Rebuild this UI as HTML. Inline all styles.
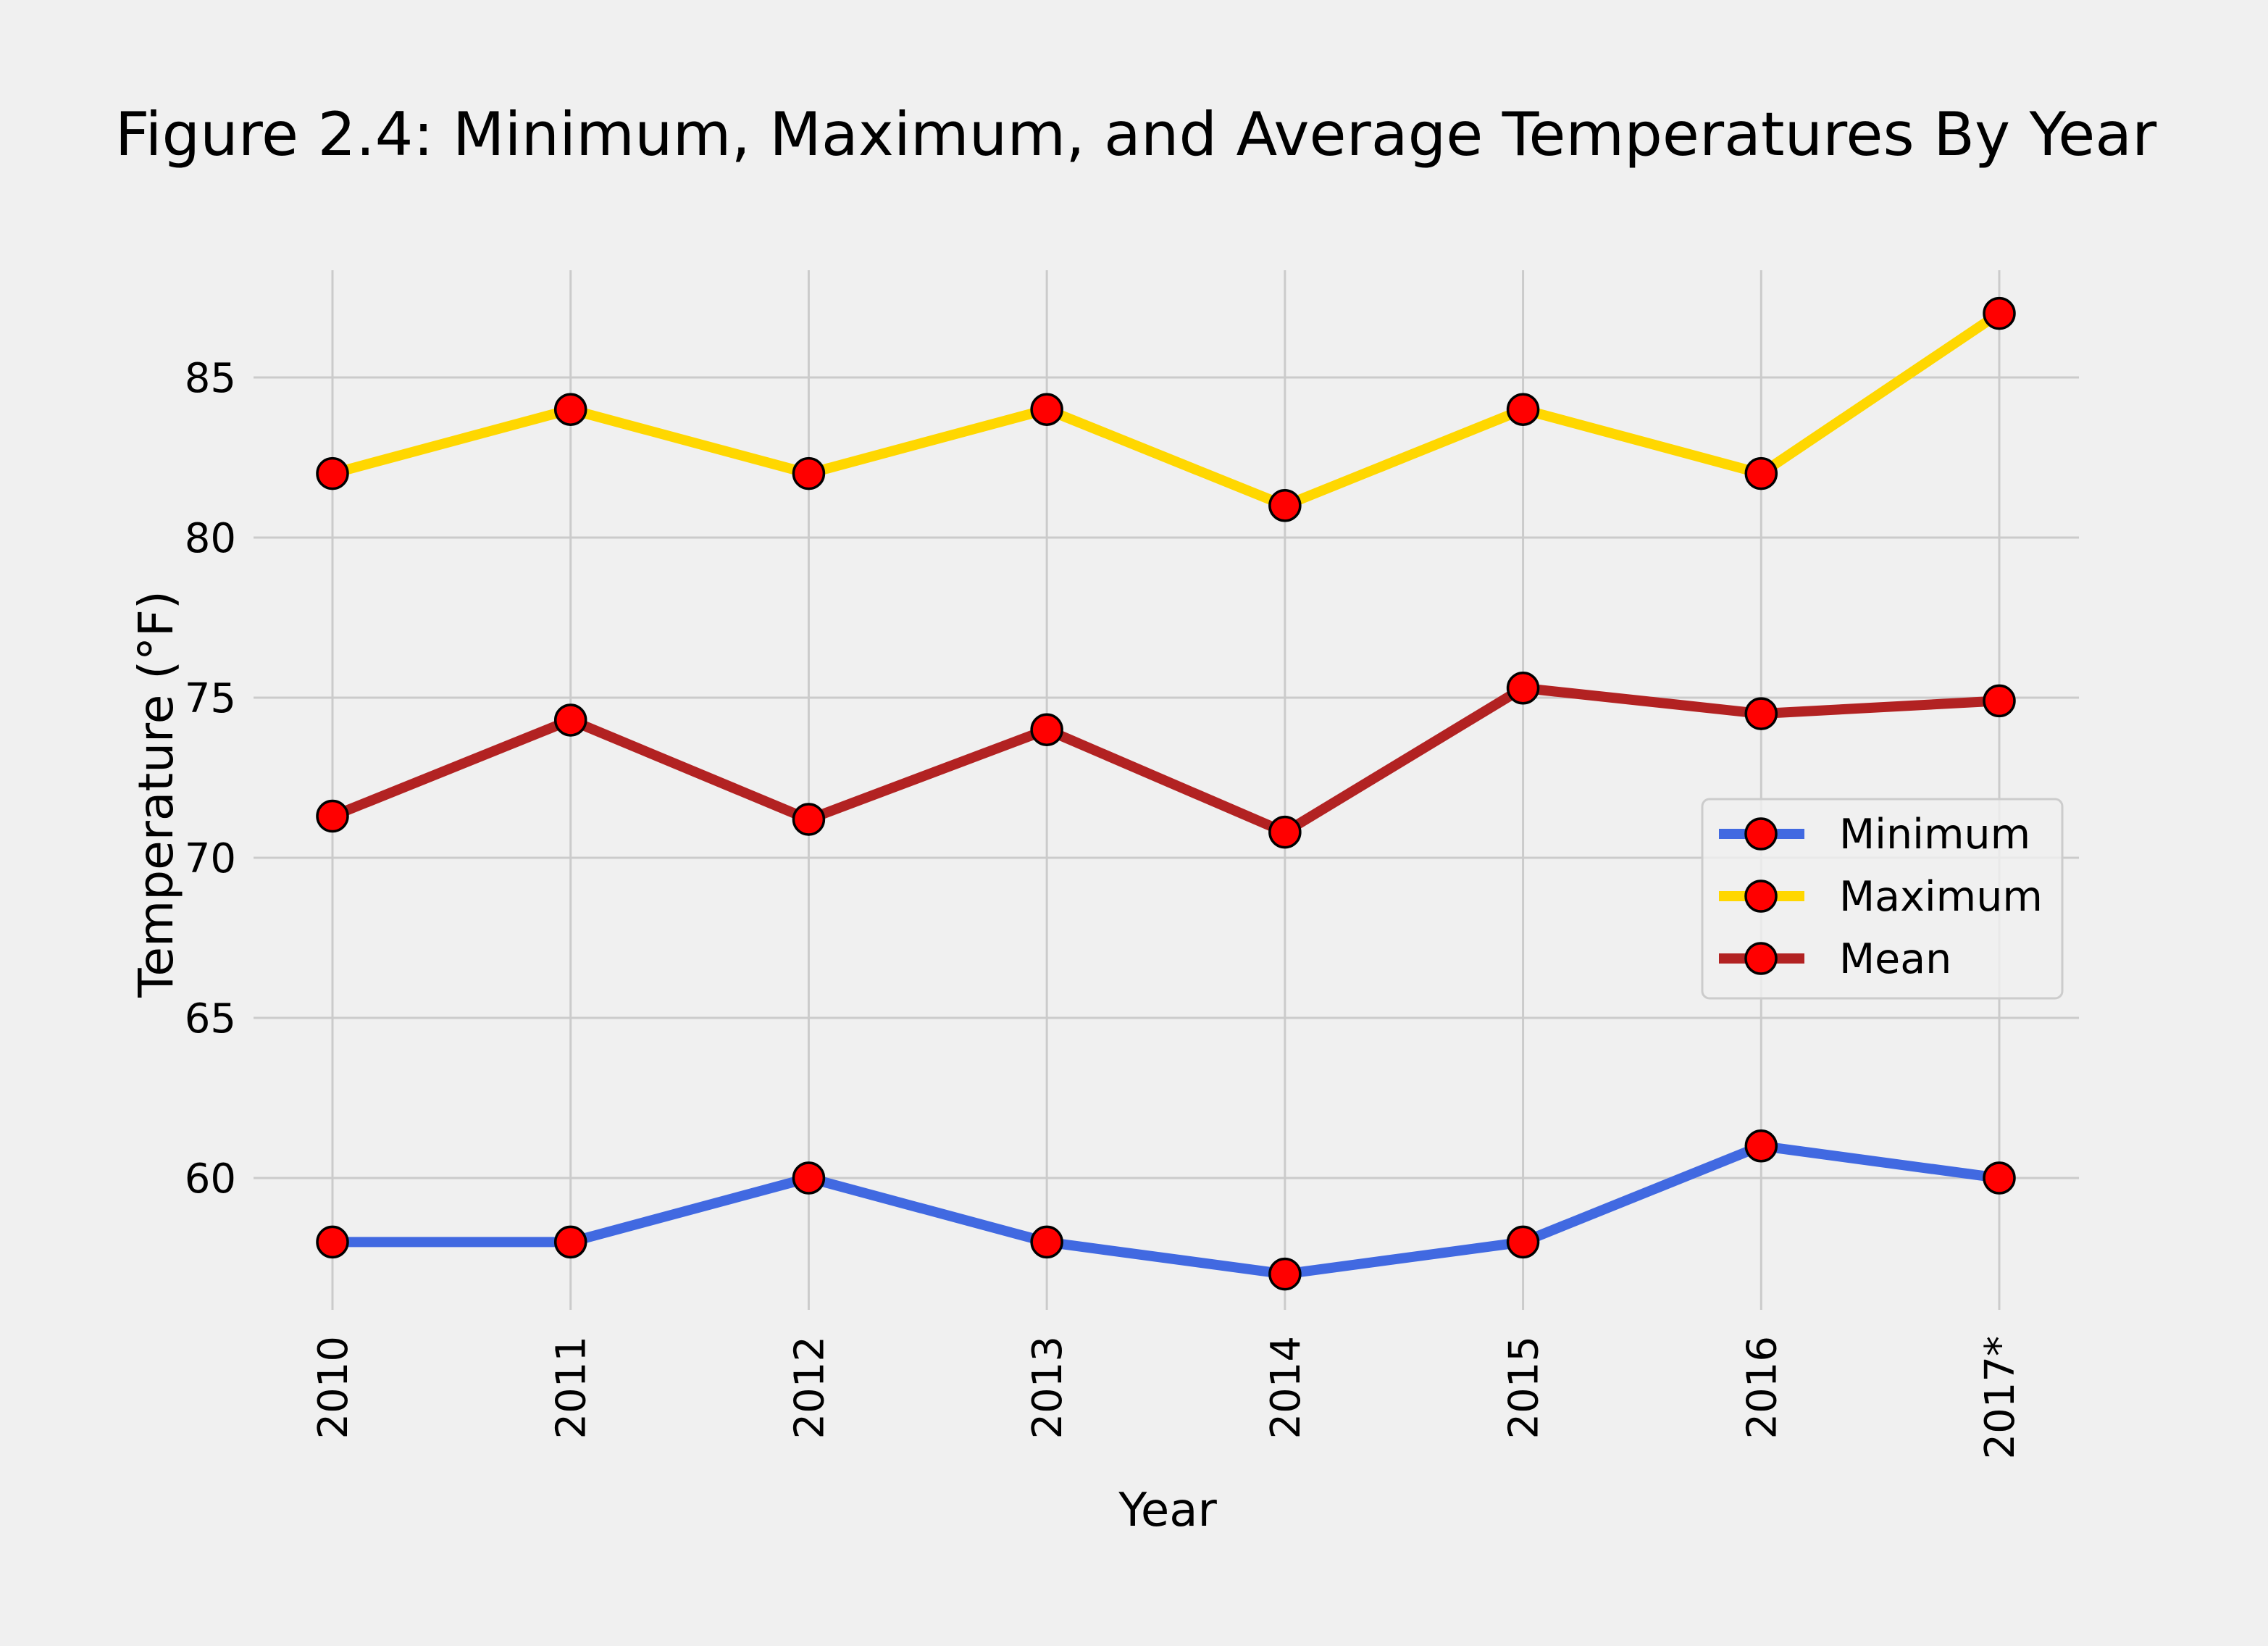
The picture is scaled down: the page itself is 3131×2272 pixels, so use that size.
<!DOCTYPE html>
<html><head><meta charset="utf-8"><style>
html,body{margin:0;padding:0;background:#f0f0f0;}
svg{display:block;font-family:"DejaVu Sans","Liberation Sans",sans-serif;}
</style></head><body>
<svg id="chart" width="3131" height="2272" viewBox="0 0 3131 2272">
<rect width="3131" height="2272" fill="#f0f0f0"/>
<text x="1568" y="214" font-size="83" text-anchor="middle" fill="#000">Figure 2.4: Minimum, Maximum, and Average Temperatures By Year</text>
<g id="grid"></g><g id="series"></g><g id="ticks"></g>
<text x="1612" y="2106" font-size="64" text-anchor="middle">Year</text>
<text transform="translate(238,1096) rotate(-90)" font-size="66" text-anchor="middle">Temperature (°F)</text>
<g id="legend">
<rect x="2350" y="1103" width="497" height="275" rx="10" fill="#f0f0f0" fill-opacity="0.8" stroke="#cccccc" stroke-width="3"/>
</g>
</svg>
<script>
const years = ["2010","2011","2012","2013","2014","2015","2016","2017*"];
const minimumTemps = [58,58,60,58,57,58,61,60];
const maximumTemps = [82,84,82,84,81,84,82,87];
const meanTemps = [71.3,74.3,71.2,74.0,70.8,75.3,74.5,74.9];
const yTicks = [60,65,70,75,80,85];
const seriesNames = ["Minimum","Maximum","Mean"];

const NS="http://www.w3.org/2000/svg";
function mk(tag,attrs,parent){const e=document.createElementNS(NS,tag);for(const k in attrs)e.setAttribute(k,attrs[k]);parent.appendChild(e);return e;}
const xScale=i=>459+i*(2760-459)/(years.length-1);
const yScale=v=>742-(v-80)*44.2;
const grid=document.getElementById('grid'),ser=document.getElementById('series'),ticks=document.getElementById('ticks');
years.forEach((y,i)=>{
  const l=mk('line',{x1:xScale(i),x2:xScale(i),y1:373,y2:1808,stroke:'#cbcbcb','stroke-width':3},grid);
  
  
  const t=mk('text',{transform:`translate(${xScale(i)+20},1844) rotate(-90)`,'font-size':56,'text-anchor':'end'},ticks);
  t.textContent=y;
  
  
});
yTicks.forEach(v=>{
  const l=mk('line',{x1:350,x2:2870,y1:yScale(v),y2:yScale(v),stroke:'#cbcbcb','stroke-width':3},grid);
  
  
  const t=mk('text',{x:326,y:yScale(v)+20,'font-size':56,'text-anchor':'end'},ticks);
  t.textContent=v;
  
  
});
const colors=['#4169e1','#ffd700','#b22222'];
[minimumTemps,maximumTemps,meanTemps].forEach((arr,s)=>{
  const g=mk('g',{},ser);
  
  
  const pl=mk('polyline',{points:arr.map((v,i)=>xScale(i)+','+yScale(v)).join(' '),fill:'none',stroke:colors[s],'stroke-width':14},g);
  
  
  arr.forEach((v,i)=>{
    const c=mk('circle',{cx:xScale(i),cy:yScale(v),r:21,fill:'#ff0000',stroke:'#000','stroke-width':3.5},g);
    
    
  });
});
const leg=document.getElementById('legend');
seriesNames.forEach((n,i)=>{
  const y=1151+i*86;
  const l=mk('line',{x1:2373,x2:2491,y1:y,y2:y,stroke:colors[i],'stroke-width':14},leg);
  
  
  const c=mk('circle',{cx:2431,cy:y,r:21,fill:'#ff0000',stroke:'#000','stroke-width':3.5},leg);
  
  
  const t=mk('text',{x:2539,y:y+20,'font-size':57},leg);
  t.textContent=n;
  
  
});
</script>
</body></html>
